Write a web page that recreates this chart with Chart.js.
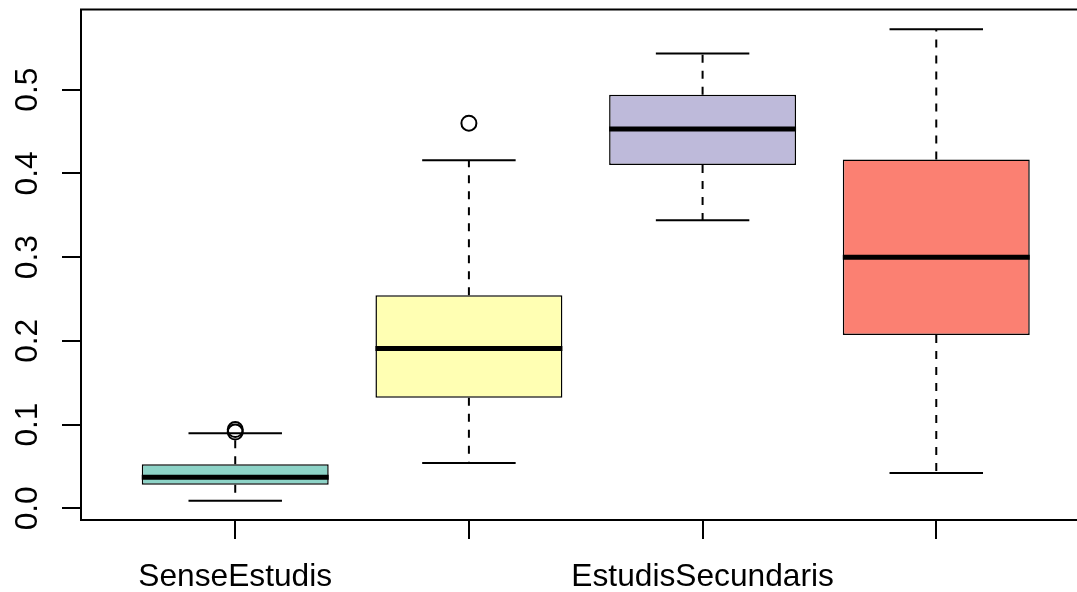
<!DOCTYPE html>
<html>
<head>
<meta charset="utf-8">
<title>Boxplot</title>
<script src="https://cdn.jsdelivr.net/npm/chart.js@4/dist/chart.umd.min.js"></script>
<style>
  html, body { margin: 0; padding: 0; background: #ffffff; overflow: hidden; }
  canvas { display: block; }
</style>
</head>
<body>
<canvas id="chart" width="1100" height="592"></canvas>
<script>
// Group positions on the x axis and the labels printed under them
const positions = [1, 2, 3, 4];
const tickLabels = ['SenseEstudis', '', 'EstudisSecundaris', ''];

// Five-number summaries per group
const whiskerLow  = [0.009, 0.054, 0.344, 0.042];
const q1          = [0.028, 0.132, 0.410, 0.207];
const median      = [0.037, 0.191, 0.453, 0.300];
const q3          = [0.0525, 0.2545, 0.494, 0.4165];
const whiskerHigh = [0.0895, 0.4157, 0.5433, 0.5723];

// Points beyond the whiskers
const outlierX = [1, 1, 2];
const outlierY = [0.094, 0.091, 0.460];

// Y axis ticks
const yTicks = [0.0, 0.1, 0.2, 0.3, 0.4, 0.5];

const boxColors = ['#8DD3C7', '#FFFFB3', '#BEBADA', '#FB8072'];
const FONT = { family: "'Liberation Sans', Arial, Helvetica, sans-serif", size: 31.7 };

// Whiskers, staples and medians drawn through the chart's scales
const boxExtras = {
  id: 'boxExtras',
  beforeDatasetsDraw(chart) {
    const { ctx, scales: { x, y } } = chart;
    ctx.save();
    ctx.strokeStyle = '#000';
    positions.forEach((p, i) => {
      const cx = x.getPixelForValue(p);
      // dashed whiskers
      ctx.lineWidth = 2;
      ctx.setLineDash([8, 8]);
      ctx.beginPath();
      ctx.moveTo(cx, y.getPixelForValue(q1[i]));
      ctx.lineTo(cx, y.getPixelForValue(whiskerLow[i]));
      ctx.moveTo(cx, y.getPixelForValue(q3[i]));
      ctx.lineTo(cx, y.getPixelForValue(whiskerHigh[i]));
      ctx.stroke();
      // staples
      ctx.setLineDash([]);
      const sl = x.getPixelForValue(p - 0.2), sr = x.getPixelForValue(p + 0.2);
      ctx.beginPath();
      ctx.moveTo(sl, y.getPixelForValue(whiskerLow[i]));
      ctx.lineTo(sr, y.getPixelForValue(whiskerLow[i]));
      ctx.moveTo(sl, y.getPixelForValue(whiskerHigh[i]));
      ctx.lineTo(sr, y.getPixelForValue(whiskerHigh[i]));
      ctx.stroke();
    });
    ctx.restore();
  },
  afterDatasetsDraw(chart) {
    const { ctx, scales: { x, y }, chartArea: a } = chart;
    ctx.save();
    ctx.strokeStyle = '#000';
    ctx.lineCap = 'butt';
    ctx.lineWidth = 5;
    positions.forEach((p, i) => {
      const my = y.getPixelForValue(median[i]);
      ctx.beginPath();
      ctx.moveTo(x.getPixelForValue(p - 0.4), my);
      ctx.lineTo(x.getPixelForValue(p + 0.4), my);
      ctx.stroke();
    });
    // plot frame
    ctx.lineWidth = 2;
    ctx.strokeRect(a.left, a.top, a.right - a.left, a.bottom - a.top);
    ctx.restore();
  }
};

new Chart(document.getElementById('chart'), {
  type: 'bar',
  data: {
    datasets: [
      {
        type: 'line',
        data: outlierX.map((px, i) => ({ x: px, y: outlierY[i] })),
        showLine: false,
        pointStyle: 'circle',
        pointRadius: 7.5,
        pointBorderWidth: 2,
        pointBorderColor: '#000',
        pointBackgroundColor: 'rgba(0,0,0,0)',
        order: 0
      },
      {
        type: 'bar',
        data: positions.map((px, i) => ({ x: px, y: [q1[i], q3[i]] })),
        backgroundColor: boxColors,
        borderColor: '#000',
        borderWidth: 1.5,
        borderSkipped: false,
        barPercentage: 0.8,
        categoryPercentage: 1.0,
        order: 1
      }
    ]
  },
  options: {
    responsive: false,
    animation: false,
    events: [],
    layout: { padding: { left: 0, top: 9, right: 8, bottom: 0 } },
    plugins: { legend: { display: false }, tooltip: { enabled: false } },
    scales: {
      x: {
        type: 'linear',
        min: 0.34,
        max: 4.66,
        offset: false,
        afterBuildTicks(scale) { scale.ticks = positions.map(v => ({ value: v })); },
        afterFit(scale) {
          scale.height = 72;
          scale.paddingLeft = 0; scale.paddingRight = 0;
        },
        grid: {
          display: true,
          offset: false,
          drawOnChartArea: false,
          drawTicks: true,
          tickLength: 19,
          color: '#000',
          lineWidth: 2
        },
        border: { display: false },
        ticks: {
          autoSkip: false,
          maxRotation: 0,
          minRotation: 0,
          padding: 19,
          color: '#000',
          font: FONT,
          callback: (v) => tickLabels[positions.indexOf(v)] ?? ''
        }
      },
      y: {
        type: 'linear',
        min: -0.014,
        max: 0.5958,
        afterBuildTicks(scale) { scale.ticks = yTicks.map(v => ({ value: v })); },
        afterFit(scale) {
          scale.width = 81;
          scale.paddingTop = 0; scale.paddingBottom = 0;
        },
        grid: {
          display: true,
          drawOnChartArea: false,
          drawTicks: true,
          tickLength: 19,
          color: '#000',
          lineWidth: 2
        },
        border: { display: false },
        ticks: {
          autoSkip: false,
          minRotation: 90,
          maxRotation: 90,
          crossAlign: 'center',
          padding: 12,
          color: '#000',
          font: FONT,
          callback: (v) => Number(v).toFixed(1)
        }
      }
    }
  },
  plugins: [boxExtras]
});
</script>
</body>
</html>
